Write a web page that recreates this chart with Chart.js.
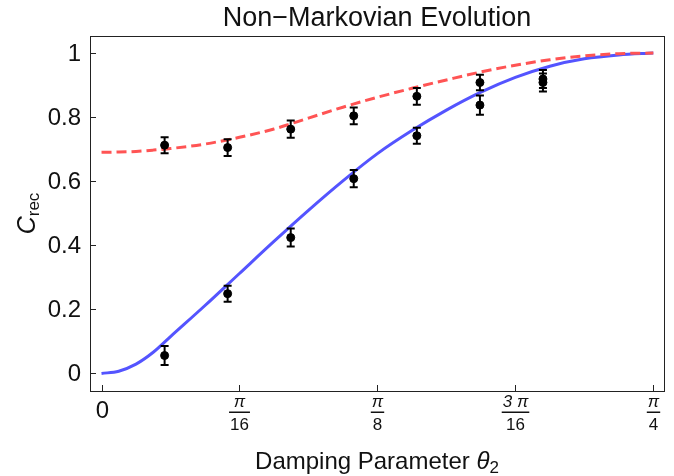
<!DOCTYPE html>
<html>
<head>
<meta charset="utf-8">
<title>Non-Markovian Evolution</title>
<script src="https://cdn.jsdelivr.net/npm/chart.js@4.4.1/dist/chart.umd.min.js"></script>
<style>
  html, body { margin: 0; padding: 0; background: #fff; }
  #wrap { width: 674px; height: 476px; }
</style>
</head>
<body>
<div id="wrap"><canvas id="chart" width="674" height="476"></canvas></div>
<script>
// -------- Data ---------------------------------
const curveTheta = [0, 0.0245, 0.0491, 0.0736, 0.0982, 0.1473, 0.1963, 0.2454, 0.2945, 0.3436, 0.3927,
                    0.4418, 0.4909, 0.5400, 0.5890, 0.6381, 0.6872, 0.7363, 0.7854];
const blueCurve = [0, 0.007, 0.029, 0.066, 0.115, 0.212, 0.312, 0.412, 0.509, 0.601, 0.686,
                   0.758, 0.822, 0.878, 0.924, 0.959, 0.982, 0.994, 1.0];
const redCurve  = [0.690, 0.691, 0.693, 0.697, 0.702, 0.716, 0.737, 0.763, 0.797, 0.831, 0.862,
                   0.890, 0.916, 0.941, 0.962, 0.979, 0.991, 0.998, 1.0];

const pointTheta = [0.0898, 0.1795, 0.2693, 0.3590, 0.4488, 0.5386, 0.6283];
const upperPts = [0.7125, 0.705, 0.7625, 0.804, 0.865, 0.908, 0.919];
const upperErr = [0.025, 0.026, 0.027, 0.026, 0.026, 0.024, 0.028];
const lowerPts = [0.056, 0.249, 0.424, 0.608, 0.742, 0.8375, 0.908];
const lowerErr = [0.030, 0.025, 0.028, 0.027, 0.025, 0.030, 0.028];

const yTicks = [0, 0.2, 0.4, 0.6, 0.8, 1];
const yTickLabels = ["0", "0.2", "0.4", "0.6", "0.8", "1"];
const xTicks = [0, Math.PI / 16, Math.PI / 8, 3 * Math.PI / 16, Math.PI / 4];
const xTickLabels = [["0"], ["π", "16"], ["π", "8"], ["3 π", "16"], ["π", "4"]];

const TITLE = "Non\u2212Markovian Evolution";
const FONT = "'Liberation Sans', Arial, sans-serif";

// -------- Helpers ----------
const pts = (xs, ys) => xs.map((x, i) => ({ x, y: ys[i] }));

// error bars for the scatter sets
const errorBars = {
  id: "errorBars",
  afterDatasetsDraw(chart) {
    const { ctx, scales: { x, y } } = chart;
    ctx.save();
    ctx.strokeStyle = "#000";
    ctx.lineWidth = 2;
    [[upperPts, upperErr], [lowerPts, lowerErr]].forEach(([vals, errs]) => {
      vals.forEach((v, i) => {
        const px = x.getPixelForValue(pointTheta[i]);
        const y1 = y.getPixelForValue(v + errs[i]);
        const y2 = y.getPixelForValue(v - errs[i]);
        ctx.beginPath();
        ctx.moveTo(px, y1); ctx.lineTo(px, y2);
        ctx.moveTo(px - 4, y1); ctx.lineTo(px + 4, y1);
        ctx.moveTo(px - 4, y2); ctx.lineTo(px + 4, y2);
        ctx.stroke();
      });
    });
    ctx.restore();
  }
};

// frame, inward ticks, labels and titles (Mathematica-like)
const frame = {
  id: "frame",
  beforeDraw(chart) {
    const { ctx, width, height } = chart;
    ctx.save();
    ctx.fillStyle = "#fff";
    ctx.fillRect(0, 0, width, height);
    ctx.restore();
  },
  afterDraw(chart) {
    const { ctx, chartArea: a, scales: { x, y } } = chart;
    ctx.save();
    ctx.strokeStyle = "#222";
    ctx.lineWidth = 1;
    ctx.strokeRect(Math.round(a.left) + 0.5, Math.round(a.top) + 0.5,
                   Math.round(a.right - a.left), Math.round(a.bottom - a.top));

    // y ticks + labels
    ctx.fillStyle = "#111";
    ctx.font = `24px ${FONT}`;
    ctx.textAlign = "right";
    ctx.textBaseline = "middle";
    yTicks.forEach((v, i) => {
      const py = Math.round(y.getPixelForValue(v)) + 0.5;
      ctx.beginPath();
      ctx.moveTo(a.left, py); ctx.lineTo(a.left + 6, py);
      ctx.stroke();
      ctx.fillText(yTickLabels[i], a.left - 9, py + 1);
    });

    // x ticks + fraction labels
    ctx.textAlign = "center";
    xTicks.forEach((v, i) => {
      const px = Math.round(x.getPixelForValue(v)) + 0.5;
      ctx.beginPath();
      ctx.moveTo(px, a.bottom); ctx.lineTo(px, a.bottom - 6);
      ctx.stroke();
      const lab = xTickLabels[i];
      if (lab.length === 1) {
        ctx.font = `24px ${FONT}`;
        ctx.fillText(lab[0], px, a.bottom + 20);
        return;
      }
      ctx.font = `italic 17px ${FONT}`;
      const w1 = ctx.measureText(lab[0]).width;
      ctx.fillText(lab[0], px, a.bottom + 11);
      ctx.font = `17px ${FONT}`;
      const w2 = ctx.measureText(lab[1]).width;
      ctx.fillText(lab[1], px, a.bottom + 34);
      const bw = Math.max(w1, w2) + 2;
      ctx.fillRect(px - bw / 2, a.bottom + 20.5, bw, 1.5);
    });

    // axis titles
    const cx = (a.left + a.right) / 2;
    ctx.font = `27px ${FONT}`;
    ctx.fillText(TITLE, cx, 19);

    ctx.textAlign = "left";
    const xt1 = "Damping Parameter ";
    ctx.font = `24px ${FONT}`;
    const w1 = ctx.measureText(xt1).width;
    ctx.font = `italic 24px ${FONT}`;
    const w2 = ctx.measureText("θ").width;
    ctx.font = `17px ${FONT}`;
    const w3 = ctx.measureText("2").width;
    const sx = cx - (w1 + w2 + w3) / 2;
    const by = 462;
    ctx.font = `24px ${FONT}`;
    ctx.fillText(xt1, sx, by);
    ctx.font = `italic 24px ${FONT}`;
    ctx.fillText("θ", sx + w1, by);
    ctx.font = `17px ${FONT}`;
    ctx.fillText("2", sx + w1 + w2, by + 6);

    // y title, rotated
    ctx.translate(28, (a.top + a.bottom) / 2);
    ctx.rotate(-Math.PI / 2);
    ctx.font = `italic 25px ${FONT}`;
    const wc = ctx.measureText("C").width;
    ctx.font = `17px ${FONT}`;
    const wr = ctx.measureText("rec").width;
    ctx.font = `italic 25px ${FONT}`;
    ctx.fillText("C", -(wc + wr) / 2, 0);
    ctx.font = `17px ${FONT}`;
    ctx.fillText("rec", -(wc + wr) / 2 + wc, 6);
    ctx.restore();
  }
};

// -------- Chart ----------
new Chart(document.getElementById("chart"), {
  type: "line",
  data: {
    datasets: [
      { type: "scatter", data: pts(pointTheta, upperPts), backgroundColor: "#000",
        borderColor: "#000", pointRadius: 4, order: 0 },
      { type: "scatter", data: pts(pointTheta, lowerPts), backgroundColor: "#000",
        borderColor: "#000", pointRadius: 4, order: 0 },
      { data: pts(curveTheta, redCurve), borderColor: "rgb(255,84,84)", borderWidth: 3,
        borderDash: [10, 5], pointRadius: 0, cubicInterpolationMode: "monotone", order: 1 },
      { data: pts(curveTheta, blueCurve), borderColor: "rgb(84,84,255)", borderWidth: 3,
        pointRadius: 0, cubicInterpolationMode: "monotone", order: 2 }
    ]
  },
  options: {
    responsive: false,
    animation: false,
    layout: { padding: { left: 90, top: 36, right: 10, bottom: 85 } },
    plugins: { legend: { display: false }, tooltip: { enabled: false }, title: { display: false } },
    scales: {
      x: { type: "linear", min: -0.0164, max: 0.8006, display: false },
      y: { type: "linear", min: -0.0548, max: 1.0532, display: false }
    }
  },
  plugins: [frame, errorBars]
});
</script>
</body>
</html>
